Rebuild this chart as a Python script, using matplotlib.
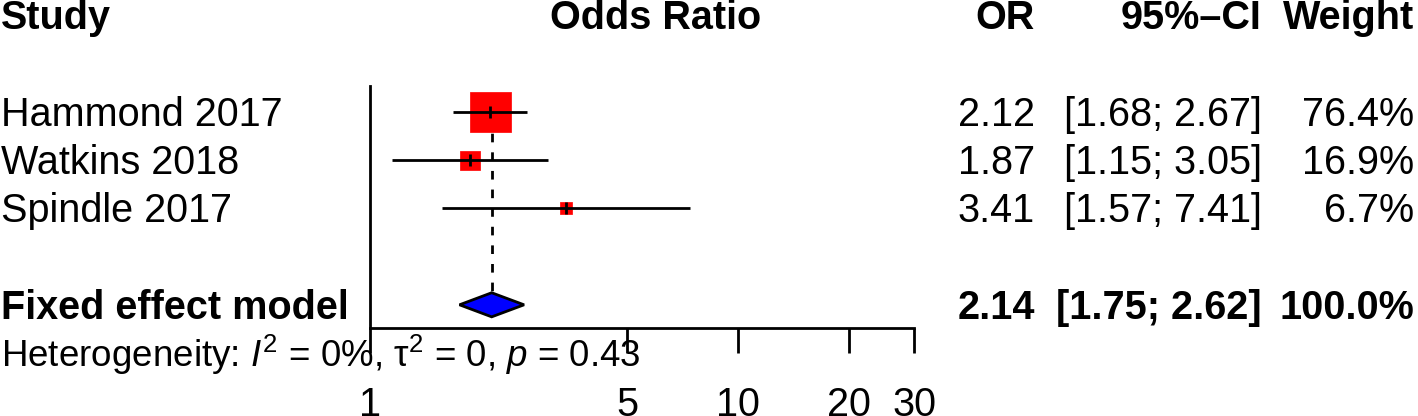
import numpy as np
import matplotlib
matplotlib.use("Agg")
import matplotlib.pyplot as plt
import matplotlib.transforms as mtransforms

plt.rcParams['font.family'] = ['Liberation Sans', 'DejaVu Sans']
plt.rcParams['mathtext.fontset'] = 'custom'
plt.rcParams['mathtext.rm'] = 'Liberation Sans'
plt.rcParams['mathtext.it'] = 'Liberation Sans:italic'
plt.rcParams['mathtext.bf'] = 'Liberation Sans:bold'

# study data
studies = ["Hammond 2017", "Watkins 2018", "Spindle 2017"]
odds = [2.12, 1.87, 3.41]
lower = [1.68, 1.15, 1.57]
upper = [2.67, 3.05, 7.41]
weights = [76.4, 16.9, 6.7]

# pooled (fixed effect) result
pooled_label = "Fixed effect model"
pooled_or = 2.14
pooled_lo = 1.75
pooled_hi = 2.62
pooled_weight = 100.0
het_text = r"Heterogeneity: $\mathit{I}^2$ = 0%, $\mathrm{\tau}^2$ = 0, $\mathit{p}$ = 0.43"

xticks = [1, 5, 10, 20, 30]
xtick_labels = ["1", "5", "10", "20", "30"]

W, H = 1418, 416
FS = 28.5
y0, dy = 112.0, 48.2   # pixel centre of row 0, row height

fig = plt.figure(figsize=(W / 100, H / 100), dpi=100)
ax = fig.add_axes([370 / W, 0, 544 / W, 1])
ax.set_xscale('log')
ax.set_xlim(1, 30)
ax.set_ylim((H - y0) / dy, -y0 / dy)

for s in ['top', 'right', 'left']:
    ax.spines[s].set_visible(False)
ax.spines['bottom'].set_position(('data', 4.49))
ax.spines['bottom'].set_linewidth(2)
ax.set_xticks(xticks)
ax.set_xticklabels(xtick_labels)
ax.xaxis.set_minor_locator(matplotlib.ticker.NullLocator())
ax.tick_params(axis='x', direction='out', length=17.8, width=2, pad=23.5, labelsize=FS)
ax.set_yticks([])
ax.patch.set_visible(False)

rows = np.arange(len(studies))
pooled_row = 4

# reference line at 1 and dashed line at pooled estimate
ax.plot([1, 1], [-0.53, 4.49], color='black', lw=2, clip_on=False, zorder=2)
ax.plot([pooled_or, pooled_or], [-0.53, pooled_row - 0.25], color='black', lw=2,
        linestyle=(3.1, (3.1, 3.6)), zorder=1)

# squares sized by weight
side = 29.5 * np.sqrt(np.array(weights) / max(weights))
ax.scatter(odds, rows, s=side ** 2, marker='s', color='red', edgecolor='red',
           linewidths=0.5, zorder=3)
for r, lo, hi, est in zip(rows, lower, upper, odds):
    ax.plot([lo, hi], [r, r], color='black', lw=2, zorder=4, solid_capstyle='butt')
    ax.plot([est], [r], marker='|', markersize=8.6, mew=2, color='black', zorder=5)

# diamond for pooled estimate
ax.fill([pooled_lo, pooled_or, pooled_hi, pooled_or],
        [pooled_row, pooled_row - 0.25, pooled_row, pooled_row + 0.25],
        facecolor='blue', edgecolor='black', lw=2, zorder=4)

# text columns
tr = mtransforms.blended_transform_factory(fig.transFigure, ax.transData)
off = 0.286
x_study = 1 / W
x_or = 1035 / W
x_ci = 1262 / W
x_w = 1414 / W

hdr = -2
ax.text(x_study, hdr + off, "Study", transform=tr, ha='left', va='baseline', fontsize=FS, fontweight='bold')
ax.text(656 / W, hdr + off, "Odds Ratio", transform=tr, ha='center', va='baseline', fontsize=FS, fontweight='bold')
ax.text(x_or, hdr + off, "OR", transform=tr, ha='right', va='baseline', fontsize=FS, fontweight='bold')
ax.text(x_ci, hdr + off, "95%\u2013CI", transform=tr, ha='right', va='baseline', fontsize=FS, fontweight='bold')
ax.text(x_w, hdr + off, "Weight", transform=tr, ha='right', va='baseline', fontsize=FS, fontweight='bold')

for r, name, est, lo, hi, w in zip(rows, studies, odds, lower, upper, weights):
    ax.text(x_study, r + off, name, transform=tr, ha='left', va='baseline', fontsize=FS)
    ax.text(x_or, r + off, "{0:.2f}".format(est), transform=tr, ha='right', va='baseline', fontsize=FS)
    ax.text(x_ci, r + off, "[{0:.2f}; {1:.2f}]".format(lo, hi), transform=tr, ha='right', va='baseline', fontsize=FS)
    ax.text(x_w, r + off, "{0:.1f}%".format(w), transform=tr, ha='right', va='baseline', fontsize=FS)

ax.text(x_study, pooled_row + off, pooled_label, transform=tr, ha='left', va='baseline', fontsize=FS, fontweight='bold')
ax.text(x_or, pooled_row + off, "{0:.2f}".format(pooled_or), transform=tr, ha='right', va='baseline', fontsize=FS, fontweight='bold')
ax.text(x_ci, pooled_row + off, "[{0:.2f}; {1:.2f}]".format(pooled_lo, pooled_hi), transform=tr, ha='right', va='baseline', fontsize=FS, fontweight='bold')
ax.text(x_w, pooled_row + off, "{0:.1f}%".format(pooled_weight), transform=tr, ha='right', va='baseline', fontsize=FS, fontweight='bold')

ax.text(x_study, 5 + off, het_text, transform=tr, ha='left', va='baseline', fontsize=26.5)

fig.savefig("out.png", dpi=100)
